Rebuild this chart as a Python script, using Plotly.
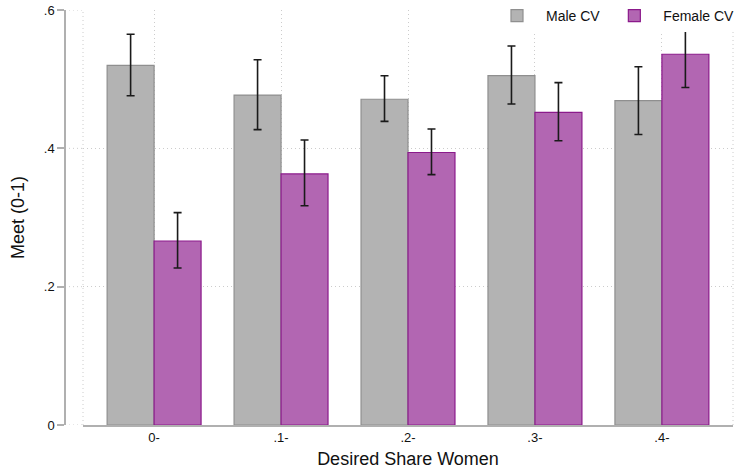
import plotly.graph_objects as go

categories = ["0-", ".1-", ".2-", ".3-", ".4-"]
male_mean = [0.520, 0.477, 0.471, 0.505, 0.469]
male_hi = [0.565, 0.528, 0.505, 0.548, 0.518]
male_lo = [0.476, 0.427, 0.439, 0.464, 0.420]
female_mean = [0.266, 0.363, 0.394, 0.452, 0.536]
female_hi = [0.307, 0.412, 0.428, 0.495, 0.584]
female_lo = [0.227, 0.317, 0.362, 0.411, 0.488]

xpos = list(range(len(categories)))

def err(mean, hi, lo):
    return dict(type="data", symmetric=False,
                array=[h - m for h, m in zip(hi, mean)],
                arrayminus=[m - l for m, l in zip(mean, lo)],
                color="#1a1a1a", thickness=1.6, width=4)

fig = go.Figure()
fig.add_trace(go.Bar(x=xpos, y=male_mean, name="Male CV",
                     marker=dict(color="#b3b3b3", line=dict(color="#8f8f8f", width=1.2)),
                     error_y=err(male_mean, male_hi, male_lo)))
fig.add_trace(go.Bar(x=xpos, y=female_mean, name="Female CV",
                     marker=dict(color="#b266b2", line=dict(color="#8b1a8b", width=1.2)),
                     error_y=err(female_mean, female_hi, female_lo)))

W, H = 742, 474
ml, mr, mt, mb = 65, 9, 10, 49
pw = W - ml - mr
ph = H - mt - mb
dstart = 18 / pw

gcol = "#cccccc"
gdash = "1px,3px"
grid = dict(color=gcol, width=1, dash=gdash)
shapes = []
for yv in [0, 0.2, 0.4, 0.6]:
    shapes.append(dict(type="line", xref="paper", yref="y", x0=0, x1=dstart,
                       y0=yv, y1=yv, line=grid, layer="below"))
for xv in [dstart, 1]:
    shapes.append(dict(type="line", xref="paper", yref="paper", x0=xv, x1=xv,
                       y0=0, y1=1, line=grid, layer="below"))

fig.update_layout(
    width=W, height=H,
    margin=dict(l=ml, r=mr, t=mt, b=mb, autoexpand=False),
    plot_bgcolor="white", paper_bgcolor="white",
    barmode="group", bargap=0.26, bargroupgap=0,
    font=dict(family="Liberation Sans, Arial, sans-serif", color="#111111", size=13),
    xaxis=dict(domain=[dstart, 1], range=[-0.56, 4.56],
               tickvals=xpos, ticktext=categories,
               showgrid=True, gridcolor=gcol, griddash=gdash, gridwidth=1,
               showline=True, linecolor="#b0b0b0", linewidth=1.5,
               ticks="", zeroline=False,
               title=dict(text="Desired Share Women", font=dict(size=18), standoff=8),
               tickfont=dict(size=13), automargin=False),
    yaxis=dict(anchor="free", position=0, range=[0, 0.6],
               tickvals=[0, 0.2, 0.4, 0.6], ticktext=["0", ".2", ".4", ".6"],
               showgrid=True, gridcolor=gcol, griddash=gdash, gridwidth=1,
               showline=True, linecolor="#b0b0b0", linewidth=1.5,
               ticks="outside", ticklen=7, tickcolor="#b0b0b0", tickwidth=1.5,
               zeroline=False,
               title=dict(text="Meet (0-1)", font=dict(size=18), standoff=14),
               tickfont=dict(size=13), automargin=False),
    legend=dict(orientation="h", x=1 + 7 / pw, xanchor="right",
                y=1 + mt / ph, yanchor="top", bgcolor="white",
                font=dict(size=14), traceorder="normal", itemwidth=48),
    shapes=shapes,
)

fig.write_html("out.html", config={"displayModeBar": False},
               post_script="document.body.style.margin='0';document.body.style.overflow='hidden';")
